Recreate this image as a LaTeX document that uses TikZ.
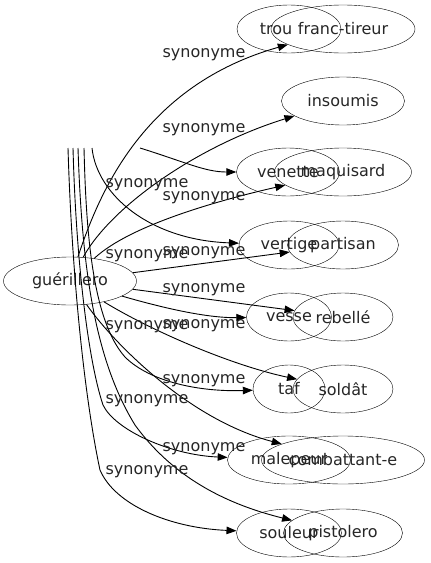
\documentclass[tikz,border=0pt]{standalone}
\usepackage{fontspec}
\setmainfont{DejaVu Sans}
\usetikzlibrary{arrows.meta,shapes.geometric}
\newcommand{\wrd}{\fontsize{16}{19}\selectfont}

\begin{document}
\begin{tikzpicture}[
  x=1pt, y=-1pt,
  word/.style={draw,ellipse,inner sep=0pt,minimum height=48pt,font=\wrd,text=black!85},
  syn/.style={anchor=base,inner sep=0pt,font=\wrd,text=black!85},
  rel/.style={-{Triangle[length=10pt,width=7.5pt]},line width=0.9pt}
]
\useasboundingbox (0,0) rectangle (431,563);
% source word
\node[word,minimum width=133pt] (guer) at (70,281) {guérillero};
% left column
\node[word,minimum width=104pt] (trou) at (289,29) {\kern-26pt trou};
\node[word,minimum width=103pt] (venette) at (288,172) {venette};
\node[word,minimum width=100pt] (vertige) at (289,245) {vertige};
\node[word,minimum width=85pt] (vesse) at (289,317) {vesse};
\node[word,minimum width=72pt] (taf) at (289,389) {taf};
\node[word,minimum width=123pt] (malepeur) at (289,460) {malepeur};
\node[word,minimum width=105pt] (souleur) at (289,533) {souleur};
% right column
\node[word,minimum width=144pt] (franc) at (343,29) {franc-tireur};
\node[word,minimum width=123pt] (insoumis) at (343,101) {insoumis};
\node[word,minimum width=137pt] (maquisard) at (343,172) {maquisard};
\node[word,minimum width=111pt] (partisan) at (343,245) {partisan};
\node[word,minimum width=100pt] (rebelle) at (343,317) {rebellé};
\node[word,minimum width=100pt] (soldat) at (343,389) {soldât};
\node[word,minimum width=163pt] (combattant) at (343,460) {combattant-e};
\node[word,minimum width=119pt] (pistolero) at (343,533) {pistolero};
% loose ends up top
\coordinate (s0) at (68,148);
\coordinate (m0) at (73,148);
\coordinate (p0) at (78,148);
\coordinate (t0) at (84,148);
\coordinate (g0) at (92,148);
\coordinate (v0) at (140,148);
% edges
\draw[rel] (guer) .. controls (100,190) and (145,85) .. (franc);
\draw[rel] (guer) .. controls (112,205) and (200,145) .. (insoumis);
\draw[rel] (v0) .. controls (185,162) and (205,172) .. (venette);
\draw[rel] (guer) .. controls (130,225) and (220,200) .. (maquisard);
\draw[rel] (g0) .. controls (97,195) and (150,240) .. (vertige);
\draw[rel] (guer) -- (partisan);
\draw[rel] (guer) .. controls (170,310) and (210,318) .. (vesse);
\draw[rel] (guer) -- (rebelle);
\draw[rel] (guer) .. controls (150,330) and (230,365) .. (soldat);
\draw[rel] (t0) .. controls (86,230) and (92,320) .. (125,357)
  .. controls (150,382) and (200,392) .. (taf);
\draw[rel] (guer) .. controls (115,345) and (190,420) .. (combattant);
\draw[rel] (m0) .. controls (76,260) and (88,360) .. (103,405)
  .. controls (115,430) and (170,455) .. (malepeur);
\draw[rel] (p0) .. controls (82,270) and (95,360) .. (135,425)
  .. controls (175,480) and (230,505) .. (pistolero);
\draw[rel] (s0) .. controls (72,280) and (85,400) .. (100,470)
  .. controls (115,505) and (170,528) .. (souleur);
% edge labels
\node[syn] (l1) at (204,57) {synonyme};
\node[syn] (l2) at (204,132) {synonyme};
\node[syn] (l3) at (147,187) {synonyme};
\node[syn] (l4) at (204,200) {synonyme};
\node[syn] (l5) at (147,258) {synonyme};
\node[syn] (l6) at (204,255) {synonyme};
\node[syn] (l7) at (204,292) {synonyme};
\node[syn] (l8) at (147,329) {synonyme};
\node[syn] (l9) at (204,328) {synonyme};
\node[syn] (l10) at (204,383) {synonyme};
\node[syn] (l11) at (147,403) {synonyme};
\node[syn] (l12) at (204,451) {synonyme};
\node[syn] (l13) at (147,474) {synonyme};
\end{tikzpicture}
\end{document}
